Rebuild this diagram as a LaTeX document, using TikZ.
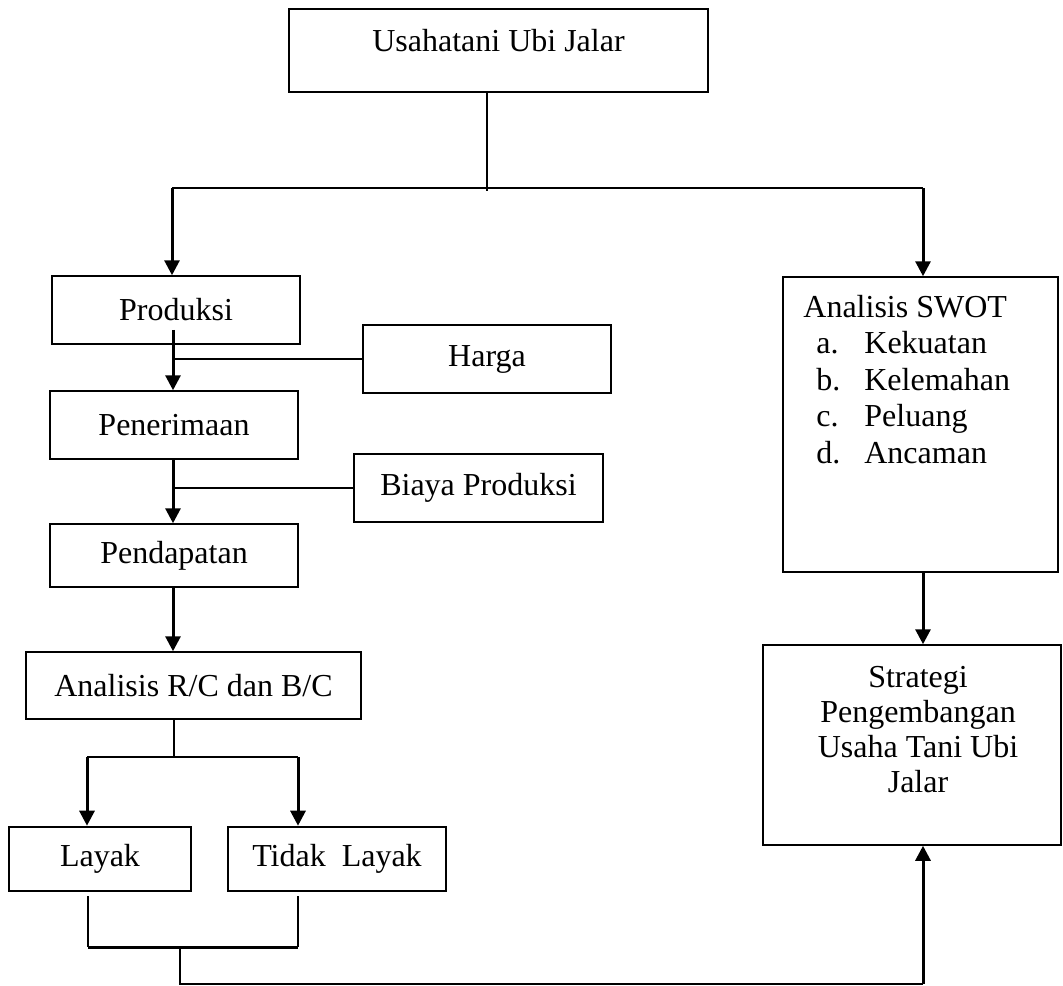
\documentclass[tikz,border=0pt]{standalone}
\usepackage{fontspec}
\setmainfont{Liberation Serif}
\usetikzlibrary{arrows.meta}
\begin{document}
\begin{tikzpicture}[x=0.5pt,y=-0.5pt,
  txt/.style={inner sep=0pt, font=\fontsize{16}{17.5}\selectfont},
  box/.style={draw, line width=0.75pt, inner sep=0pt, align=center, font=\fontsize{16}{17.5}\selectfont},
  boldbox/.style={box, line width=1.3pt},
  conn/.style={line width=1pt},
  arr/.style={line width=1.5pt, -{Triangle[width=7.5pt,length=7.5pt]}},
]
\useasboundingbox (0,0) rectangle (1063,985);

% boxes
\node[box, minimum width=209.5pt, minimum height=41.5pt] (usaha) at (498.5,50.5) {};
\node[txt] (usahat) at (498.5,41) {Usahatani Ubi Jalar};
\node[box, minimum width=124pt, minimum height=34pt] (prod) at (176,310) {Produksi};
\node[box, minimum width=124pt, minimum height=34pt] (harga) at (487,359) {Harga};
\node[box, minimum width=124pt, minimum height=34pt] (pener) at (174,425) {Penerimaan};
\node[box, minimum width=124.5pt, minimum height=34pt] (biaya) at (478.5,488) {Biaya Produksi};
\node[box, minimum width=124pt, minimum height=31.5pt] (pend) at (174,555.5) {Pendapatan};
\node[box, minimum width=167.5pt, minimum height=33.5pt] (anal) at (193.5,685.5) {Analisis R/C dan B/C};
\node[boldbox, minimum width=91pt, minimum height=32pt] (layak) at (100,859) {Layak};
\node[boldbox, minimum width=109pt, minimum height=32pt] (tidak) at (337,859) {Tidak\ \ Layak};
\node[box, minimum width=137.5pt, minimum height=147.5pt] (swot) at (920.5,424.5) {};
\node[anchor=base west, inner sep=0pt, font=\fontsize{16}{18.3}\selectfont] (swott) at (803,317)
  {\begin{tabular}[t]{@{}l@{}}Analisis SWOT\\
   \hspace*{6.5pt}\makebox[24pt][l]{a.}Kekuatan\\
   \hspace*{6.5pt}\makebox[24pt][l]{b.}Kelemahan\\
   \hspace*{6.5pt}\makebox[24pt][l]{c.}Peluang\\
   \hspace*{6.5pt}\makebox[24pt][l]{d.}Ancaman\end{tabular}};
\node[box, minimum width=149pt, minimum height=100pt] (strat) at (912,745) {};
\node[txt, align=center] (stratt) at (918,730) {Strategi\\Pengembangan\\Usaha Tani Ubi\\Jalar};

% connectors
\coordinate (top) at (487,191);
\coordinate (hl) at (172,188);
\coordinate (hr) at (923,188);
\draw[conn] (usaha.south -| top) -- (top);
\draw[conn] (hl) -- (hr);
\draw[arr] (hl) -- (prod.north -| hl);
\draw[arr] (hr) -- (swot.north -| hr);

\coordinate (sp) at (173,0);
\draw[arr] ([yshift=7.5pt]prod.south -| sp) -- (pener.north -| sp);
\draw[conn] (harga.west) -- (harga.west -| sp);
\draw[arr] (pener.south -| sp) -- (pend.north -| sp);
\draw[conn] (biaya.west) -- (biaya.west -| sp);
\draw[arr] (pend.south -| sp) -- (anal.north -| sp);

\coordinate (split) at (174,757);
\coordinate (sl) at (87,757);
\coordinate (sr) at (298,757);
\draw[conn] (anal.south -| split) -- (split);
\draw[conn, line width=1.2pt] (sl) -- (sr);
\draw[arr] (sl) -- (layak.north -| sl);
\draw[arr] (sr) -- (tidak.north -| sr);

\coordinate (bl) at (88,947);
\coordinate (br) at (298,947);
\draw[conn] ([yshift=-2pt]layak.south -| bl) -- (bl);
\draw[conn] ([yshift=-2pt]tidak.south -| br) -- (br);
\draw[line width=1.5pt] (bl) -- (br);

\coordinate (bm) at (180,948);
\coordinate (bb) at (180,984);
\coordinate (be) at (923,984);
\draw[conn] (bm) -- (bb) -- (be);
\draw[arr] (be) -- (strat.south -| be);

\draw[arr] (swot.south -| hr) -- (strat.north -| hr);
\end{tikzpicture}
\end{document}
